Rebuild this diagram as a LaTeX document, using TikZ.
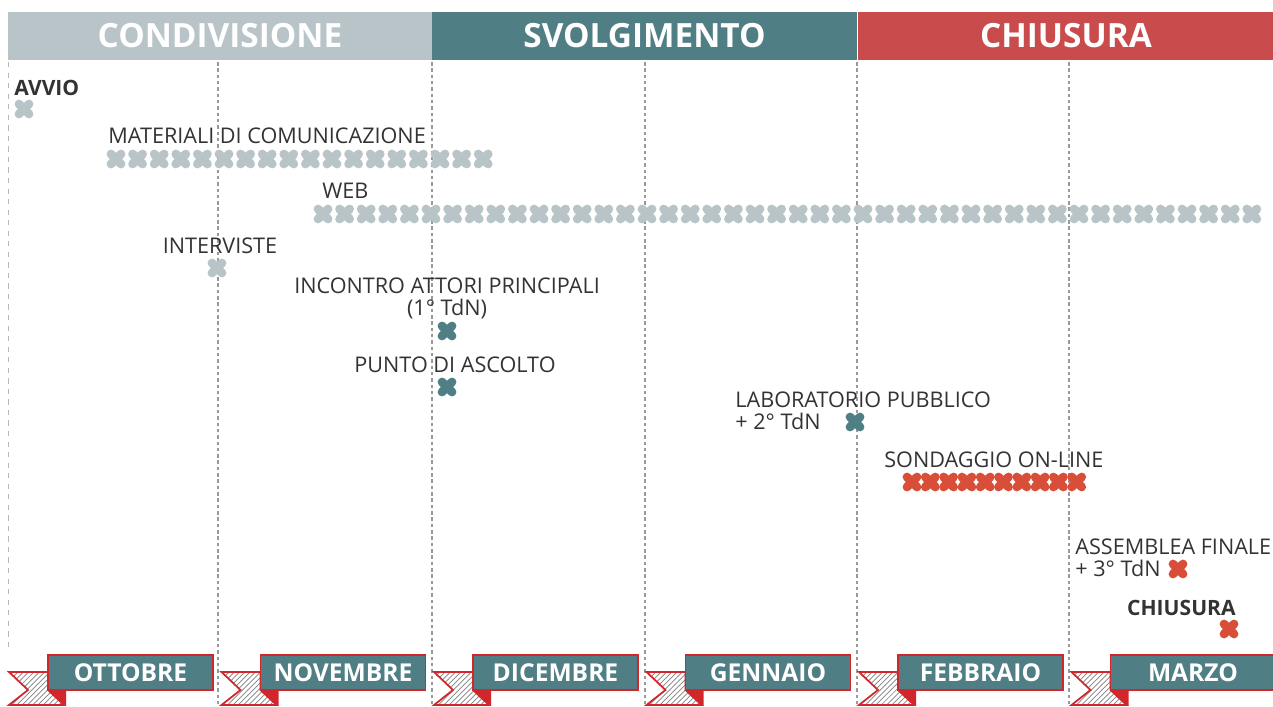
\documentclass[tikz,border=0pt]{standalone}
\usepackage{fontspec}
\setmainfont{Open Sans}
\usetikzlibrary{patterns}
\definecolor{grigio}{HTML}{B8C4C7}
\definecolor{verde}{HTML}{4F7F85}
\definecolor{rosso}{HTML}{C94B4B}
\definecolor{arancio}{HTML}{D94E38}
\definecolor{testo}{HTML}{333333}
\definecolor{bordo}{HTML}{D0262C}
\definecolor{puntini}{HTML}{999999}

% croce: x, y, colore
\newcommand{\croce}[3]{\draw[croce,#3] ({#1-5},{#2-5}) -- ({#1+5},{#2+5}) ({#1-5},{#2+5}) -- ({#1+5},{#2-5});}

% nastro del mese: spostamento, nome, testo
\newcommand{\nastro}[3]{
	\begin{scope}[shift={(#1,0)}]
		\draw[coda] (9,672) -- (48,672) -- (48,690) -- (64,705) -- (9,705) -- (28,690) -- cycle;
		\fill[bordo] (48,690) -- (66,690) -- (66,706) -- cycle;
		\node[mese] (#2) at (130.5,672.5) {#3};
	\end{scope}
}

\begin{document}
\begin{tikzpicture}[x=0.02cm,y=-0.02cm]

	%DEFINIZIONI
	\tikzstyle{fase} = [font=\bfseries\fontsize{19}{21}\selectfont, text=white, minimum height=0.96cm, inner sep=0pt]
	\tikzstyle{etichetta} = [font=\fontsize{12.3}{12.6}\selectfont, text=testo, inner sep=0pt]
	\tikzstyle{titoletto} = [font=\bfseries\fontsize{12}{12.6}\selectfont, text=testo, inner sep=0pt]
	\tikzstyle{mese} = [draw=bordo, line width=1pt, fill=verde, font=\bfseries\fontsize{14}{16}\selectfont, text=white, minimum width=3.3cm, minimum height=0.7cm, inner sep=0pt]
	\tikzstyle{coda} = [draw=bordo, line width=1pt, pattern=north east lines, pattern color=gray]
	\tikzstyle{griglia} = [puntini, line width=1.2pt, dash pattern=on 2pt off 1.6pt]
	\tikzstyle{croce} = [line width=5pt, line cap=round]

	\useasboundingbox (0,0) rectangle (1273,706);

	%GRIGLIA
	\draw[puntini!70, line width=0.4pt, dash pattern=on 3pt off 3pt] (8,62) -- (8,650);
	\foreach \x in {218,432,645,857,1069}
		\draw[griglia] (\x,62) -- (\x,706);

	%FASI
	\node[fase, fill=grigio, minimum width=8.48cm] (condivisione) at (220,36) {CONDIVISIONE};
	\node[fase, fill=verde, minimum width=8.5cm] (svolgimento) at (644.5,36) {SVOLGIMENTO};
	\node[fase, fill=rosso, minimum width=8.34cm] (chiusura) at (1066,36) {CHIUSURA};

	%ATTIVITA
	\node[titoletto, anchor=west] (avvio) at (14,88) {AVVIO};
	\croce{24}{109}{grigio}

	\node[etichetta, anchor=west] (materiali) at (108,136) {MATERIALI DI COMUNICAZIONE};
	\foreach \i in {0,...,17}
		{\croce{116+21.6*\i}{159}{grigio}}

	\node[etichetta, anchor=west] (web) at (322,191) {WEB};
	\foreach \i in {0,...,43}
		{\croce{323+21.6*\i}{214}{grigio}}

	\node[etichetta] (interviste) at (220,246) {INTERVISTE};
	\croce{217}{268}{grigio}

	\node[etichetta, align=center] (incontro) at (447,298) {INCONTRO ATTORI PRINCIPALI\\(1° TdN)};
	\croce{447}{331}{verde}

	\node[etichetta] (punto) at (455,365) {PUNTO DI ASCOLTO};
	\croce{447}{387}{verde}

	\node[etichetta, align=left, anchor=west] (laboratorio) at (735,411) {LABORATORIO PUBBLICO\\+ 2° TdN};
	\croce{855}{422}{verde}

	\node[etichetta, anchor=west] (sondaggio) at (884,460) {SONDAGGIO ON-LINE};
	\foreach \i in {0,...,9}
		{\croce{912+18.3*\i}{482}{arancio}}

	\node[etichetta, align=left, anchor=west] (assemblea) at (1075,558) {ASSEMBLEA FINALE\\+ 3° TdN};
	\croce{1178}{569}{arancio}

	\node[titoletto, anchor=east] (fine) at (1236,608) {CHIUSURA};
	\croce{1229}{629}{arancio}

	%MESI
	\nastro{0}{ottobre}{OTTOBRE}
	\nastro{212.5}{novembre}{NOVEMBRE}
	\nastro{425}{dicembre}{DICEMBRE}
	\nastro{637.5}{gennaio}{GENNAIO}
	\nastro{850}{febbraio}{FEBBRAIO}
	\nastro{1062.5}{marzo}{MARZO}
\end{tikzpicture}
\end{document}
